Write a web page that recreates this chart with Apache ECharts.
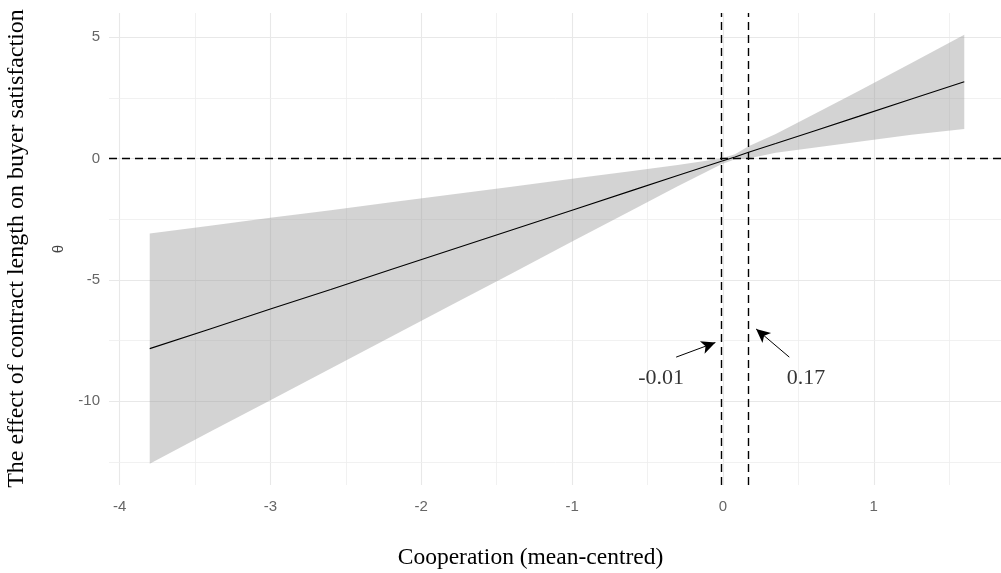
<!DOCTYPE html>
<html>
<head>
<meta charset="utf-8">
<script src="https://cdn.jsdelivr.net/npm/echarts@6/dist/echarts.min.js"></script>
<style>html,body{margin:0;padding:0;background:#fff}#c{width:1001px;height:573px}</style>
</head>
<body>
<div id="c"></div>
<script>
// ---- data ----
var cooperation = [-3.8, -3.4, -3, -2.6, -2.2, -1.8, -1.4, -1, -0.6, -0.3, -0.01, 0.08, 0.17, 0.35, 0.6, 0.9, 1.25, 1.6];
var effect      = [-7.83, -7.02, -6.20, -5.39, -4.57, -3.76, -2.94, -2.13, -1.31, -0.70, -0.11, 0.07, 0.26, 0.62, 1.13, 1.74, 2.46, 3.17];
var upperCI     = [-3.09, -2.77, -2.44, -2.13, -1.80, -1.48, -1.16, -0.83, -0.51, -0.26, 0.00, 0.18, 0.51, 1.01, 1.82, 2.79, 3.94, 5.10];
var lowerCI     = [-12.57, -11.26, -9.96, -8.65, -7.34, -6.03, -4.73, -3.42, -2.12, -1.14, -0.23, -0.03, 0.00, 0.24, 0.45, 0.69, 0.98, 1.22];
var jnPoints    = [-0.01, 0.17];
var jnLabels    = ['-0.01', '0.17'];
var xTicks      = [-4, -3, -2, -1, 0, 1];
var xMinorTicks = [-3.5, -2.5, -1.5, -0.5, 0.5, 1.5];
var yTicks      = [-10, -5, 0, 5];
var yMinorTicks = [-12.5, -7.5, -2.5, 2.5];

// annotation placement (data coordinates)
var labelPos  = [[-0.41, -9.05], [0.55, -9.05]];
var arrowFrom = [[-0.31, -8.18], [0.44, -8.18]];
var arrowTo   = [[-0.05, -7.58], [0.22, -7.02]];

var chart = echarts.init(document.getElementById('c'), null, {renderer: 'canvas'});

var gridLines = [];
xTicks.forEach(function (v) { gridLines.push({xAxis: v, lineStyle: {color: '#e8e8e8', width: 1.1, type: 'solid'}}); });
xMinorTicks.forEach(function (v) { gridLines.push({xAxis: v, lineStyle: {color: '#eeeeee', width: 0.8, type: 'solid'}}); });
yTicks.forEach(function (v) { gridLines.push({yAxis: v, lineStyle: {color: '#e8e8e8', width: 1.1, type: 'solid'}}); });
yMinorTicks.forEach(function (v) { gridLines.push({yAxis: v, lineStyle: {color: '#eeeeee', width: 0.8, type: 'solid'}}); });

var serif = '"Liberation Serif", "Times New Roman", serif';
var sans = '"Liberation Sans", Arial, sans-serif';

var option = {
  animation: false,
  backgroundColor: '#ffffff',
  grid: {left: 109, top: 13, width: 896, height: 472, containLabel: false, outerBoundsMode: 'none'},
  xAxis: {
    type: 'value', min: -4.07, max: 1.87,
    axisLine: {show: false}, axisTick: {show: false},
    splitLine: {show: false},
    axisLabel: {customValues: xTicks, color: '#666', fontFamily: sans, fontSize: 15, margin: 14}
  },
  yAxis: {
    type: 'value', min: -13.45, max: 6.0,
    axisLine: {show: false}, axisTick: {show: false},
    splitLine: {show: false},
    axisLabel: {customValues: yTicks, color: '#666', fontFamily: sans, fontSize: 15, margin: 9},
    name: 'θ', nameLocation: 'middle', nameGap: 43, nameRotate: 90,
    nameTextStyle: {fontFamily: sans, fontSize: 15, color: '#444'}
  },
  graphic: [
    {
      type: 'text', x: 5, y: 248.5, rotation: Math.PI / 2,
      style: {text: 'The effect of contract length on buyer satisfaction', fontFamily: serif, fontSize: 24, fill: '#000', align: 'center', verticalAlign: 'top'}
    },
    {
      type: 'text', x: 530.5, y: 558,
      style: {text: 'Cooperation (mean-centred)', fontFamily: serif, fontSize: 23.5, fill: '#000', align: 'center', verticalAlign: 'middle'}
    }
  ],
  series: [
    {
      type: 'line', data: [], silent: true, z: 0,
      markLine: {silent: true, z: 0, symbol: 'none', label: {show: false}, animation: false, data: gridLines}
    },
    {
      type: 'custom', z: 1, silent: true, clip: true,
      data: cooperation.map(function (x, i) { return [x, lowerCI[i], upperCI[i]]; }),
      encode: {x: 0, y: [1, 2]},
      renderItem: function (params, api) {
        if (params.dataIndex !== 0) return null;
        var pts = [];
        for (var i = 0; i < cooperation.length; i++) pts.push(api.coord([cooperation[i], upperCI[i]]));
        for (var j = cooperation.length - 1; j >= 0; j--) pts.push(api.coord([cooperation[j], lowerCI[j]]));
        return {type: 'polygon', shape: {points: pts}, style: {fill: 'rgba(150,150,150,0.42)'}};
      }
    },
    {
      type: 'line', z: 3, symbol: 'none', silent: true,
      data: cooperation.map(function (x, i) { return [x, effect[i]]; }),
      lineStyle: {color: '#000', width: 1.1},
      markLine: {
        silent: true, symbol: 'none', label: {show: false},
        lineStyle: {color: '#000', width: 1.4, type: [8, 5]},
        data: [{xAxis: jnPoints[0]}, {xAxis: jnPoints[1]}, {yAxis: 0}]
      }
    },
    {
      type: 'line', z: 4, data: [], silent: true,
      markLine: {
        silent: true, symbol: ['none', 'arrow'], symbolSize: [10, 14], label: {show: false},
        lineStyle: {color: '#000', width: 1, type: 'solid'},
        data: [
          [{coord: arrowFrom[0]}, {coord: arrowTo[0]}],
          [{coord: arrowFrom[1]}, {coord: arrowTo[1]}]
        ]
      }
    },
    {
      type: 'scatter', z: 5, silent: true, symbolSize: 1,
      itemStyle: {color: 'rgba(0,0,0,0)'},
      data: labelPos.map(function (p, i) { return [p[0], p[1], jnLabels[i]]; }),
      label: {
        show: true, position: 'inside',
        formatter: function (p) { return p.value[2]; },
        fontFamily: serif, fontSize: 22, color: '#000'
      }
    }
  ]
};
chart.setOption(option);
</script>
</body>
</html>
